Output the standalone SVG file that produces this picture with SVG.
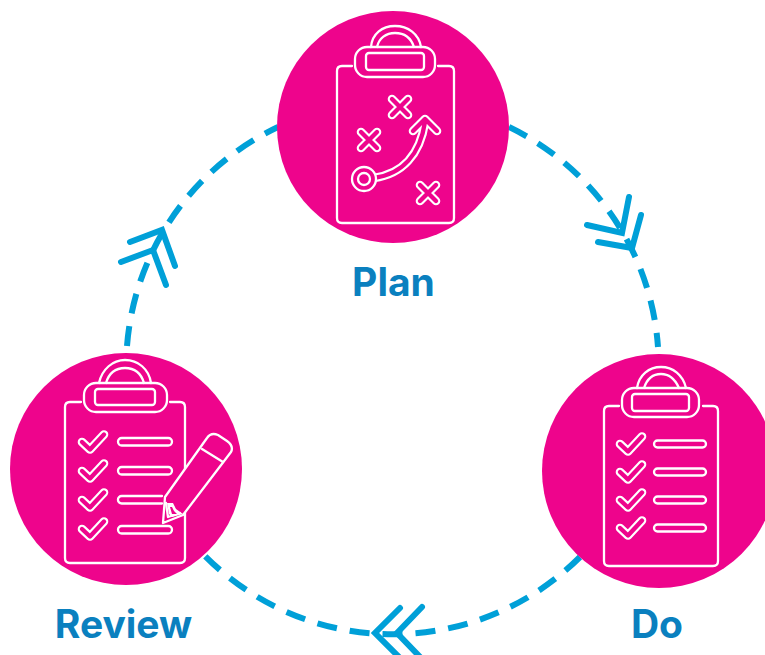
<svg xmlns="http://www.w3.org/2000/svg" width="765" height="655" viewBox="0 0 765 655">
<style>
.disc{fill:#ee048c}
.l{fill:none;stroke:#fff;stroke-width:2.300;stroke-linejoin:round;stroke-linecap:round}
.o{fill:none;stroke:#fff;stroke-width:8.600;stroke-linejoin:round;stroke-linecap:round}
.i{fill:none;stroke:#ee048c;stroke-width:4.400;stroke-linejoin:round;stroke-linecap:round}
.dash{fill:none;stroke:#00a0d8;stroke-width:6;stroke-dasharray:20 13}
.head{fill:none;stroke:#00a0d8;stroke-width:6;stroke-linecap:round;stroke-linejoin:miter}
.label{font-family:"Inter","Liberation Sans",sans-serif;font-weight:700;font-size:39px;fill:#0a80bf;text-anchor:middle}
</style>
<defs>
<path id="chk" d="M0 0L8 7.500L22-7.500"/>
<g id="rowchk"><use href="#chk" class="o"/><use href="#chk" class="i"/></g>
</defs>
<g id="connectors">
<path class="dash" d="M509 127A265 265 0 0 1 658 347"/>
<path class="dash" d="M580 557A265 265 0 0 1 205 556"/>
<path class="dash" d="M127 346A265 265 0 0 1 278 127"/>
<path class="head" d="M587 225L622 233L629 197"/>
<path class="head" d="M598 242L632 248L641 215"/>
<path class="head" d="M400 608L375 633L400 658"/>
<path class="head" d="M422 607L397 633L422 659"/>
<path class="head" d="M130 242L162 230L175 266"/>
<path class="head" d="M121 262L153 250L166 285"/>
</g>
<g id="plan">
<circle class="disc" cx="393" cy="127" r="116"/>
<path class="l" d="M352 66H342Q337 66 337 71V218Q337 223 342 223H449Q454 223 454 218V71Q454 66 449 66H438"/>
<rect class="l" x="355" y="47" width="80" height="30" rx="12"/>
<rect class="l" x="366" y="53" width="58" height="17" rx="3"/>
<path class="l" d="M371 47C372 34 382 26 395 26C408 26 419 34 421 47"/>
<path class="l" d="M377 47C379 38 386 33 395 33C404 33 411 38 414 47"/>
<path class="o" d="M392 99L408 115M408 99L392 115M361 132L377 148M377 132L361 148M420 185L436 201M436 185L420 201"/>
<path class="i" d="M392 99L408 115M408 99L392 115M361 132L377 148M377 132L361 148M420 185L436 201M436 185L420 201"/>
<path class="o" d="M374 178C402 174 420 155 425 122M413 131L425 119L437 131"/>
<path class="i" d="M374 178C402 174 420 155 425 122M413 131L425 119L437 131"/>
<circle cx="364" cy="179" r="12" fill="#ee048c" stroke="#fff" stroke-width="2.300"/>
<circle cx="364" cy="179" r="6" fill="none" stroke="#fff" stroke-width="2.300"/>
</g>
<g id="do">
<circle class="disc" cx="659" cy="471" r="117"/>
<path class="l" d="M619 406H609Q604 406 604 411V561Q604 566 609 566H713Q718 566 718 561V411Q718 406 713 406H703"/>
<rect class="l" x="622" y="388" width="77" height="29" rx="12"/>
<rect class="l" x="632" y="394" width="57" height="17" rx="3"/>
<path class="l" d="M637 388C639 375 649 367 661 367C673 367 683 375 686 388"/>
<path class="l" d="M644 388C647 379 653 374 661 374C669 374 675 379 679 388"/>
<use href="#rowchk" x="620" y="444"/><use href="#rowchk" x="620" y="472"/><use href="#rowchk" x="620" y="500"/><use href="#rowchk" x="620" y="528"/>
<rect class="l" x="654" y="440.500" width="52" height="7" rx="3.500"/>
<rect class="l" x="654" y="468.500" width="52" height="7" rx="3.500"/>
<rect class="l" x="654" y="496.500" width="52" height="7" rx="3.500"/>
<rect class="l" x="654" y="524.500" width="52" height="7" rx="3.500"/>
</g>
<g id="review">
<circle class="disc" cx="126" cy="469" r="116"/>
<path class="l" d="M81 402H70Q65 402 65 407V558Q65 563 70 563H180Q185 563 185 558V407Q185 402 180 402H170"/>
<rect class="l" x="84" y="383" width="83" height="29" rx="12"/>
<rect class="l" x="95" y="389" width="60" height="16" rx="3"/>
<path class="l" d="M99 383C102 369 113 360 125 360C138 360 149 369 151 383"/>
<path class="l" d="M106 383C109 373 116 368 125 368C134 368 141 373 144 383"/>
<use href="#rowchk" x="82" y="442"/><use href="#rowchk" x="82" y="471"/><use href="#rowchk" x="82" y="500"/><use href="#rowchk" x="82" y="529"/>
<rect class="l" x="118" y="438" width="54" height="7.500" rx="3.700"/>
<rect class="l" x="118" y="467" width="54" height="7.500" rx="3.700"/>
<path class="l" d="M162 496H121.700A3.700 3.700 0 0 0 121.700 503.500H162"/>
<rect class="l" x="118" y="526" width="54" height="7.500" rx="3.700"/>
<path class="l" style="fill:#ee048c" d="M165 497L207 438Q211 432 218 435L227 441Q234 446 231 452L183 515L163 523Z"/>
<path class="l" d="M202 449L223 462"/>
<path class="l" d="M166 503L168 517L180 513"/>
<path fill="#fff" d="M167 503L173 503L176 509L183 514L172 517L169 514Z"/>
<path fill="#ee048c" d="M170 507L172 507L174 511L177 514L172 514Z"/>
</g>
<g id="labels">
<text class="label" x="393.500" y="296">Plan</text>
<text class="label" x="123.500" y="638">Review</text>
<text class="label" x="657" y="638">Do</text>
</g>
</svg>
